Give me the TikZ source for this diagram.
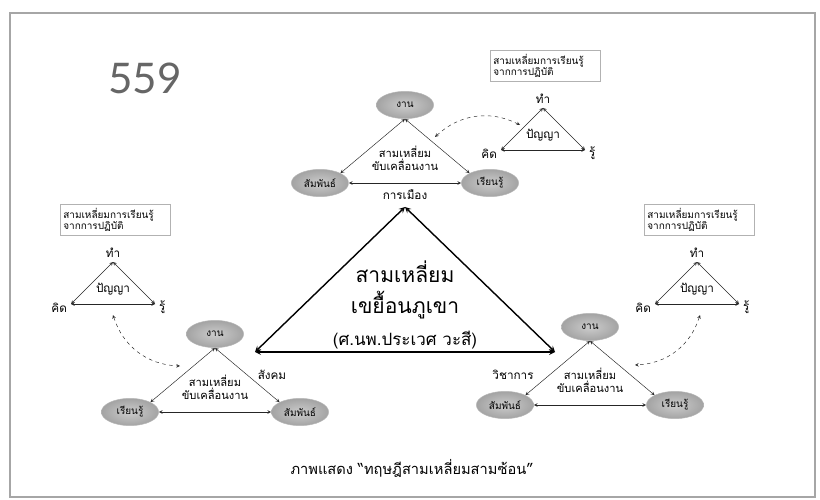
\documentclass[tikz,border=0pt]{standalone}
\usepackage{fontspec}
\setmainfont{Loma}[Script=Thai]
\newfontfamily\numfont{Lato}
\usetikzlibrary{shapes.geometric}

\tikzset{
  job/.style={ellipse, shading=radial, inner color=gray!40, outer color=gray!72,
    draw=gray!55, minimum width=1.72cm, minimum height=0.82cm, inner sep=1pt,
    font=\fontsize{8.5}{9}\selectfont},
  learnbox/.style={draw=gray!60, text width=3.1cm, align=left, inner sep=3pt,
    font=\fontsize{8.5}{10}\selectfont},
  bigtxt/.style={font=\fontsize{18}{20}\selectfont},
  arr/.style={<->, black!85}
}

\begin{document}
\begin{tikzpicture}[x=0.03cm,y=0.03cm,>=stealth,font=\fontsize{10}{11}\selectfont]
\useasboundingbox (0,0) rectangle (820,499);
\draw[gray!70,line width=1pt] (10,2) rectangle (815,486);

\node[font=\numfont\fontsize{36}{36}\selectfont, text=black!60] (pagenum) at (145,421) {559};

% big triangle
\coordinate (bigtop) at (405,292);
\coordinate (bigleft) at (255,147);
\coordinate (bigright) at (555,147);
\draw[<->,very thick] (bigtop) -- (bigleft);
\draw[<->,very thick] (bigtop) -- (bigright);
\draw[<->,very thick] (bigleft) -- (bigright);
\node[bigtxt] (bigtitle) at (405,227) {สามเหลี่ยม};
\node[bigtxt] (bigsub) at (405,194) {เขยื้อนภูเขา};
\node[font=\fontsize{14.5}{16}\selectfont] (bigname) at (405,159) {(ศ.นพ.ประเวศ วะสี)};
\node (politics) at (405,304) {การเมือง};
\node (society) at (272,124) {สังคม};
\node (academic) at (513,124) {วิชาการ};

% work triangles
\foreach \n/\x/\y/\a/\b in {L/215/165/เรียนรู้/สัมพันธ์, T/405/394/สัมพันธ์/เรียนรู้, R/590/172/สัมพันธ์/เรียนรู้} {
  \node[job] (work\n) at (\x,\y) {งาน};
  \node[job] (left\n) at (\x-85,\y-78) {\a};
  \node[job] (right\n) at (\x+85,\y-78) {\b};
  \draw[arr] (work\n.south) -- (left\n.north east);
  \draw[arr] (work\n.south) -- (right\n.north west);
  \draw[arr] (left\n.east) -- (right\n.west);
  \node[align=center, font=\fontsize{9.5}{11}\selectfont] (drive\n) at (\x,\y-53) {สามเหลี่ยม\\ขับเคลื่อนงาน};
}

% learning triangles
\foreach \n/\x/\y in {l/113/237, t/543/391, r/697/237} {
  \node[learnbox] (learn\n) at (\x+2,\y+42) {สามเหลี่ยมการเรียนรู้\\จากการปฏิบัติ};
  \coordinate (do\n) at (\x,\y);
  \coordinate (think\n) at (\x-42,\y-42);
  \coordinate (know\n) at (\x+42,\y-42);
  \node[above] (dolabel\n) at (do\n) {ทำ};
  \node[left,yshift=-3pt] (thinklabel\n) at (think\n) {คิด};
  \node[right,yshift=-3pt] (knowlabel\n) at (know\n) {รู้};
  \draw[arr] (do\n) -- (think\n);
  \draw[arr] (do\n) -- (know\n);
  \draw[arr] (think\n) -- (know\n);
  \node (wisdom\n) at (\x,\y-27) {ปัญญา};
}

% dashed links
\coordinate (dl1) at (113,184); \coordinate (dl2) at (180,133);
\coordinate (dt1) at (435,362); \coordinate (dt2) at (520,374);
\coordinate (dr1) at (700,184); \coordinate (dr2) at (635,134);
\draw[arr,dashed] (dl1) to[bend right=35] (dl2);
\draw[arr,dashed] (dt1) to[bend left=35] (dt2);
\draw[arr,dashed] (dr1) to[bend left=35] (dr2);

\node[font=\fontsize{12.5}{14}\selectfont] (caption) at (412,31) {ภาพแสดง ``ทฤษฎีสามเหลี่ยมสามซ้อน''};
\end{tikzpicture}
\end{document}
